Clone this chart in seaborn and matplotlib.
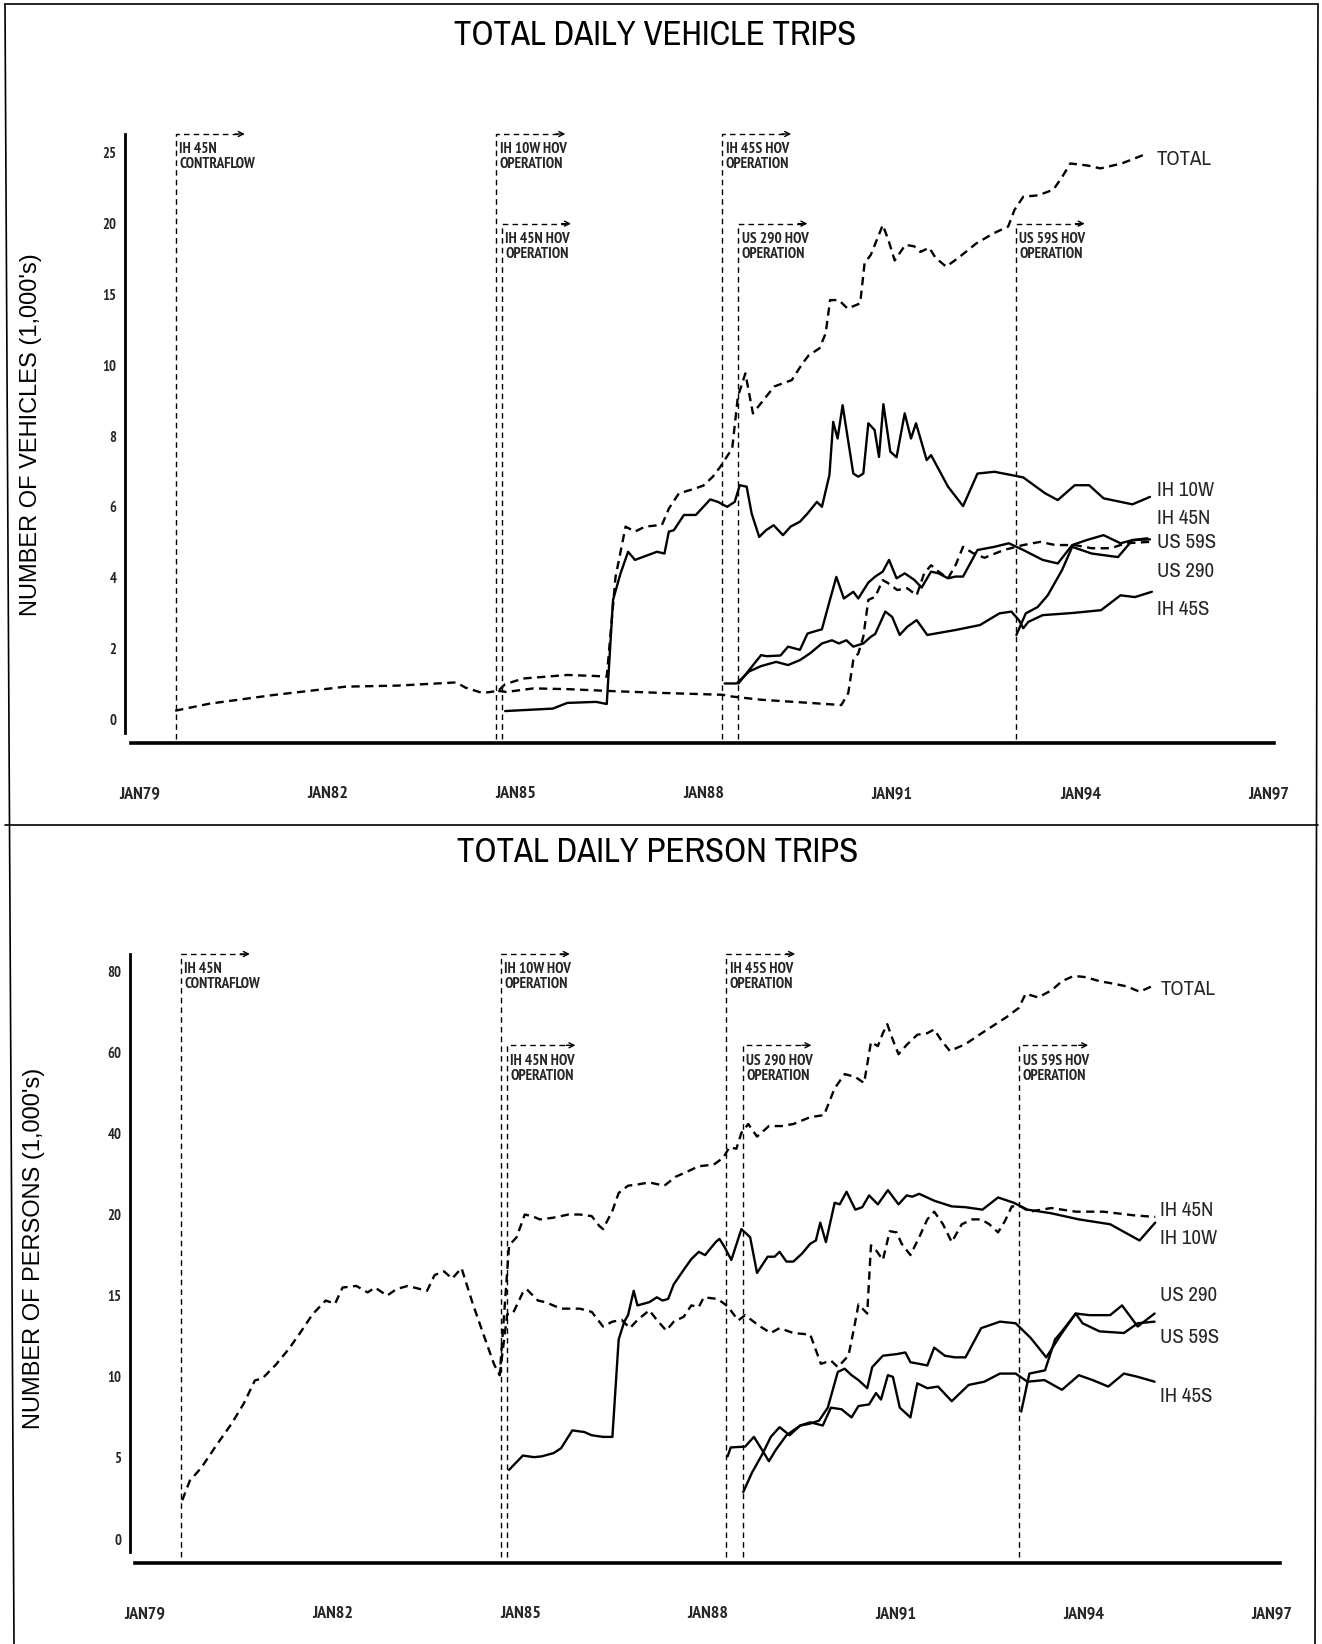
import numpy as np
import pandas as pd
import matplotlib
matplotlib.use('Agg')
import matplotlib.pyplot as plt
from matplotlib import font_manager
from matplotlib.lines import Line2D
import seaborn as sns

W, H = 1322, 1644

sns.set_style('white')
fonts = font_manager.fontManager.ttflist
installed = {f.name for f in fonts}


def is_bold(f):
    w = f.weight
    if isinstance(w, str):
        return w.lower() in ('bold', 'heavy', 'black', 'extra bold', 'semibold', 'demibold')
    return w >= 600


bold_installed = {f.name for f in fonts if is_bold(f)}
candidates = ['Archivo Narrow', 'PT Sans Narrow', 'Roboto Condensed', 'Liberation Sans Narrow',
              'Fira Sans Condensed', 'Encode Sans Condensed', 'Barlow Condensed']
NARROW = next((c for c in candidates if c in installed), 'DejaVu Sans')
NARROW_B = next((c for c in candidates if c in bold_installed), 'DejaVu Sans')
REGULAR = 'Liberation Sans' if 'Liberation Sans' in installed else 'DejaVu Sans'
plt.rcParams['font.family'] = [NARROW, 'DejaVu Sans']

# x axis
tick_years = [1979, 1982, 1985, 1988, 1991, 1994, 1997]
tick_labels = ['JAN79', 'JAN82', 'JAN85', 'JAN88', 'JAN91', 'JAN94', 'JAN97']
minor_years = list(range(1979, 1998))

# HOV openings
event_years = [1979.58, 1984.69, 1984.78, 1988.29, 1988.55, 1992.97]
event_labels = ['IH 45N\nCONTRAFLOW', 'IH 10W HOV\nOPERATION', 'IH 45N HOV\nOPERATION',
                'IH 45S HOV\nOPERATION', 'US 290 HOV\nOPERATION', 'US 59S HOV\nOPERATION']
event_level = [1, 1, 2, 1, 2, 2]

# ---- vehicle trips (1,000's) : (year, value)
veh_total = [(1979.57, 0.24), (1980.12, 0.44), (1981.12, 0.68), (1982.29, 0.92), (1983.13, 0.95),
             (1984.05, 1.04), (1984.20, 0.89), (1984.47, 0.74), (1984.72, 0.80), (1984.83, 0.99),
             (1985.12, 1.15), (1985.82, 1.25), (1986.28, 1.22), (1986.45, 1.20), (1986.59, 4.02),
             (1986.75, 5.44), (1986.90, 5.30), (1987.06, 5.44), (1987.33, 5.49), (1987.44, 5.95),
             (1987.60, 6.38), (1987.83, 6.50), (1987.99, 6.60), (1988.14, 6.85), (1988.26, 7.13),
             (1988.45, 7.65), (1988.54, 9.11), (1988.66, 9.77), (1988.78, 8.64), (1988.95, 9.02),
             (1989.12, 9.40), (1989.40, 9.58), (1989.57, 10.13), (1989.67, 10.70), (1989.84, 11.19),
             (1989.94, 12.25), (1990.01, 14.6), (1990.15, 14.6), (1990.29, 14.0), (1990.49, 14.37),
             (1990.56, 17.2), (1990.66, 17.8), (1990.85, 19.9), (1990.94, 18.84), (1991.04, 17.4),
             (1991.21, 18.5), (1991.35, 18.4), (1991.45, 18.0), (1991.59, 18.3), (1991.69, 17.6),
             (1991.86, 16.96), (1992.06, 17.6), (1992.34, 18.6), (1992.61, 19.3), (1992.85, 19.8),
             (1992.95, 20.97), (1993.09, 21.9), (1993.33, 22.0), (1993.57, 22.4), (1993.71, 23.3),
             (1993.84, 24.25), (1994.12, 24.1), (1994.32, 23.9), (1994.66, 24.25), (1995.07, 24.96)]
veh_ih10w = [(1984.83, 0.23), (1985.59, 0.30), (1985.82, 0.46), (1986.28, 0.49), (1986.45, 0.43),
             (1986.55, 3.37), (1986.67, 4.12), (1986.79, 4.73), (1986.90, 4.50), (1987.25, 4.73),
             (1987.37, 4.68), (1987.44, 5.30), (1987.52, 5.34), (1987.68, 5.77), (1987.87, 5.77),
             (1988.10, 6.21), (1988.22, 6.14), (1988.37, 6.00), (1988.49, 6.14), (1988.57, 6.61),
             (1988.68, 6.57), (1988.76, 5.81), (1988.88, 5.15), (1988.99, 5.34), (1989.11, 5.48),
             (1989.26, 5.20), (1989.38, 5.44), (1989.53, 5.58), (1989.65, 5.81), (1989.80, 6.14),
             (1989.88, 6.00), (1990.00, 6.90), (1990.06, 8.40), (1990.13, 7.93), (1990.21, 8.87),
             (1990.38, 6.94), (1990.46, 6.85), (1990.54, 6.94), (1990.62, 8.36), (1990.72, 8.17),
             (1990.79, 7.41), (1990.86, 8.90), (1990.97, 7.56), (1991.07, 7.40), (1991.20, 8.64),
             (1991.30, 7.93), (1991.38, 8.36), (1991.55, 7.32), (1991.62, 7.46), (1991.89, 6.57),
             (1992.13, 6.02), (1992.36, 6.94), (1992.63, 6.99), (1992.95, 6.88), (1993.09, 6.83),
             (1993.44, 6.38), (1993.64, 6.19), (1993.91, 6.61), (1994.14, 6.61), (1994.37, 6.24),
             (1994.83, 6.07), (1995.11, 6.28)]
veh_ih45n = [(1984.72, 0.80), (1984.85, 0.77), (1985.28, 0.87), (1985.82, 0.85), (1986.59, 0.79),
             (1987.37, 0.74), (1988.30, 0.69), (1988.45, 0.64), (1988.91, 0.55), (1989.69, 0.46),
             (1990.19, 0.40), (1990.30, 0.74), (1990.38, 1.67), (1990.46, 1.86), (1990.54, 2.33),
             (1990.62, 3.37), (1990.73, 3.46), (1990.85, 3.93), (1990.93, 3.85), (1991.08, 3.65),
             (1991.24, 3.70), (1991.39, 3.50), (1991.51, 4.12), (1991.62, 4.35), (1991.74, 4.17),
             (1991.89, 3.98), (1992.01, 4.35), (1992.13, 4.87), (1992.28, 4.70), (1992.47, 4.56),
             (1992.78, 4.78), (1993.09, 4.92), (1993.36, 5.01), (1993.60, 4.92), (1993.91, 4.92),
             (1994.18, 4.83), (1994.49, 4.83), (1994.72, 4.97), (1995.11, 5.01)]
veh_us290 = [(1988.55, 1.01), (1988.72, 1.39), (1988.91, 1.81), (1989.00, 1.78), (1989.22, 1.80),
             (1989.34, 2.05), (1989.53, 1.96), (1989.65, 2.42), (1989.80, 2.50), (1989.88, 2.54),
             (1990.00, 3.32), (1990.11, 4.02), (1990.23, 3.41), (1990.38, 3.60), (1990.46, 3.41),
             (1990.62, 3.86), (1990.73, 4.03), (1990.85, 4.17), (1990.95, 4.50), (1991.07, 3.98),
             (1991.20, 4.12), (1991.35, 3.94), (1991.47, 3.72), (1991.62, 4.17), (1991.74, 4.12),
             (1991.89, 3.98), (1992.01, 4.03), (1992.13, 4.03), (1992.36, 4.78), (1992.63, 4.87),
             (1992.86, 4.97), (1993.09, 4.78), (1993.40, 4.50), (1993.64, 4.40), (1993.87, 4.92),
             (1994.10, 5.06), (1994.37, 5.20), (1994.64, 4.97), (1994.83, 5.06), (1995.11, 5.08)]
veh_us59s = [(1992.98, 2.38), (1993.13, 2.99), (1993.32, 3.17), (1993.48, 3.50), (1993.71, 4.22),
             (1993.87, 4.87), (1994.18, 4.68), (1994.60, 4.58), (1994.83, 5.06), (1995.07, 5.11)]
veh_ih45s = [(1988.33, 1.01), (1988.52, 1.01), (1988.72, 1.35), (1988.91, 1.50), (1989.15, 1.62),
             (1989.34, 1.53), (1989.53, 1.67), (1989.69, 1.86), (1989.88, 2.14), (1990.04, 2.23),
             (1990.15, 2.14), (1990.27, 2.23), (1990.38, 2.05), (1990.54, 2.14), (1990.66, 2.33),
             (1990.73, 2.41), (1990.89, 3.04), (1991.00, 2.89), (1991.12, 2.38), (1991.24, 2.61),
             (1991.39, 2.80), (1991.56, 2.38), (1992.01, 2.52), (1992.40, 2.66), (1992.71, 2.99),
             (1992.90, 3.04), (1993.02, 2.80), (1993.09, 2.57), (1993.17, 2.75), (1993.40, 2.94),
             (1993.87, 3.00), (1994.33, 3.08), (1994.64, 3.50), (1994.87, 3.45), (1995.14, 3.60)]

# ---- person trips (1,000's)
per_total = [(1979.60, 2.4), (1979.72, 3.6), (1979.90, 4.38), (1980.15, 5.81), (1980.39, 7.13),
             (1980.58, 8.34), (1980.76, 9.78), (1980.88, 9.9), (1981.10, 10.77), (1981.31, 11.76),
             (1981.49, 12.75), (1981.68, 13.85), (1981.89, 14.7), (1982.04, 14.5), (1982.16, 15.5),
             (1982.38, 15.6), (1982.56, 15.2), (1982.68, 15.5), (1982.87, 15.0), (1983.02, 15.4),
             (1983.20, 15.6), (1983.51, 15.3), (1983.63, 16.27), (1983.78, 16.5), (1983.91, 16.05),
             (1984.06, 16.7), (1984.24, 14.5), (1984.43, 12.4), (1984.58, 10.77), (1984.67, 10.1),
             (1984.82, 18.1), (1984.94, 18.6), (1985.07, 20.0), (1985.19, 19.9), (1985.31, 19.7),
             (1985.52, 19.8), (1985.77, 20.0), (1985.95, 20.0), (1986.14, 19.9), (1986.26, 19.3),
             (1986.32, 19.1), (1986.40, 19.7), (1986.47, 20.9), (1986.57, 25.3), (1986.72, 27.1),
             (1986.87, 27.4), (1987.06, 27.9), (1987.30, 27.1), (1987.48, 29.3), (1987.67, 30.6),
             (1987.85, 31.9), (1988.09, 32.3), (1988.24, 34.0), (1988.34, 36.6), (1988.45, 36.2),
             (1988.53, 40.1), (1988.64, 42.3), (1988.78, 39.2), (1988.97, 41.8), (1989.17, 41.8),
             (1989.36, 42.3), (1989.63, 44.0), (1989.85, 44.5), (1990.02, 51.1), (1990.18, 54.6),
             (1990.35, 53.9), (1990.49, 52.4), (1990.60, 62.5), (1990.71, 61.5), (1990.79, 64.7),
             (1990.86, 66.9), (1990.95, 63.0), (1991.04, 59.5), (1991.17, 61.8), (1991.34, 64.3),
             (1991.50, 64.7), (1991.61, 65.6), (1991.72, 63.0), (1991.86, 60.3), (1992.11, 62.0),
             (1992.33, 64.3), (1992.55, 66.5), (1992.77, 68.7), (1992.96, 70.9), (1993.07, 74.4),
             (1993.27, 73.5), (1993.49, 75.3), (1993.65, 77.5), (1993.84, 78.8), (1994.03, 78.5),
             (1994.25, 77.5), (1994.47, 76.9), (1994.69, 76.2), (1994.89, 74.9), (1995.08, 76.2)]
per_ih45n = [(1984.67, 10.1), (1984.79, 13.85), (1984.88, 13.9), (1985.04, 15.2), (1985.10, 15.4),
             (1985.28, 14.7), (1985.40, 14.6), (1985.65, 14.2), (1985.95, 14.2), (1986.14, 14.0),
             (1986.32, 13.1), (1986.47, 13.4), (1986.62, 13.5), (1986.75, 13.0), (1986.87, 13.5),
             (1987.06, 14.1), (1987.18, 13.5), (1987.33, 12.85), (1987.45, 13.4), (1987.61, 13.7),
             (1987.73, 14.4), (1987.85, 14.3), (1987.93, 14.9), (1988.15, 14.8), (1988.31, 14.35),
             (1988.48, 13.47), (1988.59, 13.8), (1988.81, 13.15), (1989.00, 12.7), (1989.14, 13.0),
             (1989.36, 12.7), (1989.63, 12.6), (1989.80, 10.8), (1989.96, 11.0), (1990.07, 10.6),
             (1990.24, 11.3), (1990.33, 13.0), (1990.40, 14.46), (1990.54, 13.9), (1990.60, 18.1),
             (1990.68, 17.8), (1990.79, 17.2), (1990.90, 18.97), (1991.01, 18.9), (1991.09, 18.2),
             (1991.23, 17.5), (1991.37, 18.6), (1991.50, 19.7), (1991.61, 20.7), (1991.75, 19.4),
             (1991.89, 18.3), (1992.05, 19.4), (1992.22, 19.7), (1992.36, 19.7), (1992.49, 19.4),
             (1992.63, 18.9), (1992.74, 19.6), (1992.85, 22.0), (1992.99, 22.0), (1993.13, 20.7),
             (1993.48, 21.6), (1993.87, 20.7), (1994.31, 20.7), (1994.80, 19.95), (1995.14, 19.85)]
per_ih10w = [(1984.82, 4.27), (1985.04, 5.15), (1985.22, 5.05), (1985.34, 5.1), (1985.53, 5.3),
             (1985.65, 5.6), (1985.83, 6.7), (1986.02, 6.6), (1986.14, 6.4), (1986.32, 6.3),
             (1986.47, 6.3), (1986.57, 12.3), (1986.66, 13.4), (1986.72, 13.8), (1986.81, 15.3),
             (1986.87, 14.4), (1987.06, 14.6), (1987.18, 14.9), (1987.27, 14.7), (1987.36, 14.8),
             (1987.45, 15.7), (1987.61, 16.6), (1987.73, 17.25), (1987.85, 17.7), (1987.95, 17.5),
             (1988.12, 18.3), (1988.18, 18.5), (1988.26, 18.0), (1988.37, 17.2), (1988.53, 19.1),
             (1988.67, 18.6), (1988.78, 16.4), (1988.95, 17.4), (1989.06, 17.4), (1989.14, 17.7),
             (1989.25, 17.1), (1989.36, 17.1), (1989.50, 17.6), (1989.63, 18.2), (1989.72, 18.4),
             (1989.79, 19.5), (1989.88, 18.3), (1990.02, 22.9), (1990.10, 22.5), (1990.21, 25.6),
             (1990.35, 21.2), (1990.46, 21.8), (1990.57, 24.7), (1990.71, 22.5), (1990.87, 26.0),
             (1991.04, 22.5), (1991.17, 24.7), (1991.26, 24.4), (1991.37, 25.1), (1991.61, 23.4),
             (1991.89, 22.0), (1992.11, 21.8), (1992.38, 21.2), (1992.63, 24.2), (1992.88, 22.9),
             (1993.10, 21.2), (1993.48, 20.3), (1993.92, 19.7), (1994.42, 19.4), (1994.89, 18.4),
             (1995.14, 19.5)]
per_us290 = [(1988.56, 2.9), (1988.70, 4.1), (1988.86, 5.2), (1989.00, 6.3), (1989.14, 6.9),
             (1989.30, 6.4), (1989.47, 7.0), (1989.61, 7.1), (1989.77, 7.3), (1989.91, 8.1),
             (1990.07, 10.3), (1990.18, 10.5), (1990.29, 10.1), (1990.40, 9.8), (1990.54, 9.3),
             (1990.62, 10.6), (1990.79, 11.3), (1991.01, 11.4), (1991.15, 11.5), (1991.23, 10.9),
             (1991.37, 10.8), (1991.50, 10.7), (1991.61, 11.8), (1991.78, 11.3), (1991.94, 11.2),
             (1992.11, 11.2), (1992.36, 13.0), (1992.66, 13.4), (1992.91, 13.3), (1993.15, 12.4),
             (1993.40, 11.2), (1993.65, 12.7), (1993.87, 13.9), (1994.09, 13.8), (1994.42, 13.8),
             (1994.61, 14.4), (1994.86, 13.1), (1995.13, 13.9)]
per_us59s = [(1993.00, 7.86), (1993.13, 10.2), (1993.38, 10.4), (1993.54, 12.3), (1993.65, 12.8),
             (1993.87, 13.9), (1993.98, 13.3), (1994.25, 12.8), (1994.64, 12.7), (1994.86, 13.3),
             (1995.13, 13.4)]
per_ih45s = [(1988.31, 5.1), (1988.36, 5.65), (1988.59, 5.7), (1988.73, 6.3), (1988.86, 5.5),
             (1988.97, 4.8), (1989.08, 5.5), (1989.25, 6.4), (1989.47, 7.0), (1989.63, 7.2),
             (1989.83, 7.0), (1989.96, 8.1), (1990.13, 8.0), (1990.29, 7.5), (1990.40, 8.2),
             (1990.57, 8.3), (1990.68, 9.0), (1990.76, 8.6), (1990.87, 10.1), (1990.95, 10.0),
             (1991.06, 8.1), (1991.23, 7.5), (1991.34, 9.6), (1991.50, 9.3), (1991.67, 9.4),
             (1991.89, 8.5), (1992.16, 9.5), (1992.41, 9.7), (1992.66, 10.2), (1992.91, 10.2),
             (1993.10, 9.7), (1993.37, 9.8), (1993.65, 9.2), (1993.92, 10.1), (1994.14, 9.8),
             (1994.39, 9.4), (1994.64, 10.2), (1994.86, 10.0), (1995.13, 9.7)]

dashed_series = ['TOTAL', 'IH 45N']


def make_scale(brk, lo_step, hi_step):
    ub = brk / lo_step

    def fwd(v):
        v = np.asarray(v, dtype=float)
        return np.where(v <= brk, v / lo_step, ub + (v - brk) / hi_step)

    def inv(u):
        u = np.asarray(u, dtype=float)
        return np.where(u <= ub, u * lo_step, brk + (u - ub) * hi_step)
    return fwd, inv


def long_df(series):
    rows = []
    for name, pts in series.items():
        for yr, val in pts:
            rows.append({'year': yr, 'value': val, 'series': name})
    return pd.DataFrame(rows)


panels = [
    dict(title='TOTAL DAILY VEHICLE TRIPS', ylabel="NUMBER OF VEHICLES (1,000's)",
         series={'TOTAL': veh_total, 'IH 10W': veh_ih10w, 'IH 45N': veh_ih45n,
                 'US 290': veh_us290, 'US 59S': veh_us59s, 'IH 45S': veh_ih45s},
         labels={'TOTAL': 24.56, 'IH 10W': 6.46, 'IH 45N': 5.66, 'US 59S': 4.98,
                 'US 290': 4.18, 'IH 45S': 3.11},
         yticks=[0, 2, 4, 6, 8, 10, 15, 20, 25], scale=(10, 2, 5),
         rect=(125, 134, 1274, 743), xlim=(1978.770, 1997.087), ylim=(-0.672, 26.33),
         spine_lo=-0.38, xspine_lo=1978.866, level2=20.0, vline_lo=-0.55,
         title_xy=(655, 35), ylab_xy=(31, 435)),
    dict(title='TOTAL DAILY PERSON TRIPS', ylabel="NUMBER OF PERSONS (1,000's)",
         series={'TOTAL': per_total, 'IH 45N': per_ih45n, 'IH 10W': per_ih10w,
                 'US 290': per_us290, 'US 59S': per_us59s, 'IH 45S': per_ih45s},
         labels={'TOTAL': 75.4, 'IH 45N': 20.9, 'IH 10W': 18.5, 'US 290': 15.0,
                 'US 59S': 12.4, 'IH 45S': 8.8},
         yticks=[0, 5, 10, 15, 20, 40, 60, 80], scale=(20, 5, 20),
         rect=(130, 954, 1280, 1563), xlim=(1978.765, 1997.133), ylim=(-1.47, 84.2),
         spine_lo=-0.77, xspine_lo=1978.845, level2=61.7, vline_lo=-1.1,
         title_xy=(658, 852), ylab_xy=(34, 1248)),
]

fig = plt.figure(figsize=(W / 100, H / 100), dpi=100)

for p in panels:
    x0, y0, x1, y1 = p['rect']
    ax = fig.add_axes([x0 / W, 1 - y1 / H, (x1 - x0) / W, (y1 - y0) / H])
    df = long_df(p['series'])
    names = list(p['series'].keys())
    sns.lineplot(data=df, x='year', y='value', hue='series', style='series',
                 palette={n: 'black' for n in names},
                 dashes={n: ((3.5, 2.3) if n in dashed_series else '') for n in names},
                 estimator=None, sort=False, legend=False, linewidth=1.7, ax=ax)

    fwd, inv = make_scale(*p['scale'])
    ax.set_yscale('function', functions=(fwd, inv))
    ax.set_xlim(*p['xlim'])
    ax.set_ylim(*p['ylim'])
    top = p['ylim'][1]

    # HOV opening markers
    for yr, lab, lev in zip(event_years, event_labels, event_level):
        yt = top if lev == 1 else p['level2']
        ax.plot([yr, yr, yr + 1.02], [p['vline_lo'], yt, yt], color='black', lw=1.0,
                dashes=(4, 3), clip_on=False)
        ax.annotate('', xy=(yr + 1.1, yt), xytext=(yr + 0.95, yt),
                    arrowprops=dict(arrowstyle='->', lw=1.0, color='black', mutation_scale=9,
                                    shrinkA=0, shrinkB=0), annotation_clip=False)
        ax.annotate(lab, xy=(yr, yt), xytext=(2.5, -6), textcoords='offset points',
                    ha='left', va='top', fontsize=11, fontweight='bold', family=NARROW_B,
                    linespacing=1.1)

    # line names at right
    for name, val in p['labels'].items():
        ax.text(1995.22, val, name, ha='left', va='center', fontsize=15, family=NARROW)

    ax.set_xticks(tick_years)
    ax.set_xticks(minor_years, minor=True)
    ax.set_xticklabels(tick_labels, fontweight='bold', family=NARROW_B, fontsize=13)
    ax.set_yticks(p['yticks'])
    ax.set_yticks([], minor=True)
    ax.set_yticklabels([str(t) for t in p['yticks']], fontweight='bold', family=NARROW_B,
                       fontsize=10.5)
    ax.tick_params(axis='x', which='major', length=14, width=1.1, direction='out',
                   pad=17, color='black')
    ax.tick_params(axis='x', which='minor', length=7, width=1.1, direction='out',
                   color='black')
    ax.tick_params(axis='y', which='major', length=4.5, width=1.1, direction='out',
                   pad=1.5, color='black')
    ax.set_xlabel('')
    ax.set_ylabel('')
    for s in ['top', 'right']:
        ax.spines[s].set_visible(False)
    ax.spines['left'].set_bounds(p['spine_lo'], top)
    ax.spines['left'].set_linewidth(2.0)
    ax.spines['left'].set_color('black')
    ax.spines['bottom'].set_bounds(p['xspine_lo'], p['xlim'][1])
    ax.spines['bottom'].set_linewidth(2.6)
    ax.spines['bottom'].set_color('black')

    tx, ty = p['title_xy']
    fig.text(tx / W, 1 - ty / H, p['title'], ha='center', va='center', fontsize=25,
             family=NARROW, color='black')
    lx, ly = p['ylab_xy']
    fig.text(lx / W, 1 - ly / H, p['ylabel'], ha='center', va='center', rotation=90,
             fontsize=17, family=REGULAR, color='black')

# scanned page frame
frame = [((5, 4), (1318, 4)), ((5, 825), (1318, 825)),
         ((5, 4), (14, 1644)), ((1318, 4), (1315, 1644))]
for (ax0, ay0), (ax1, ay1) in frame:
    fig.add_artist(Line2D([ax0 / W, ax1 / W], [1 - ay0 / H, 1 - ay1 / H],
                          color='black', lw=1.2))

fig.savefig('out.png', dpi=100)
